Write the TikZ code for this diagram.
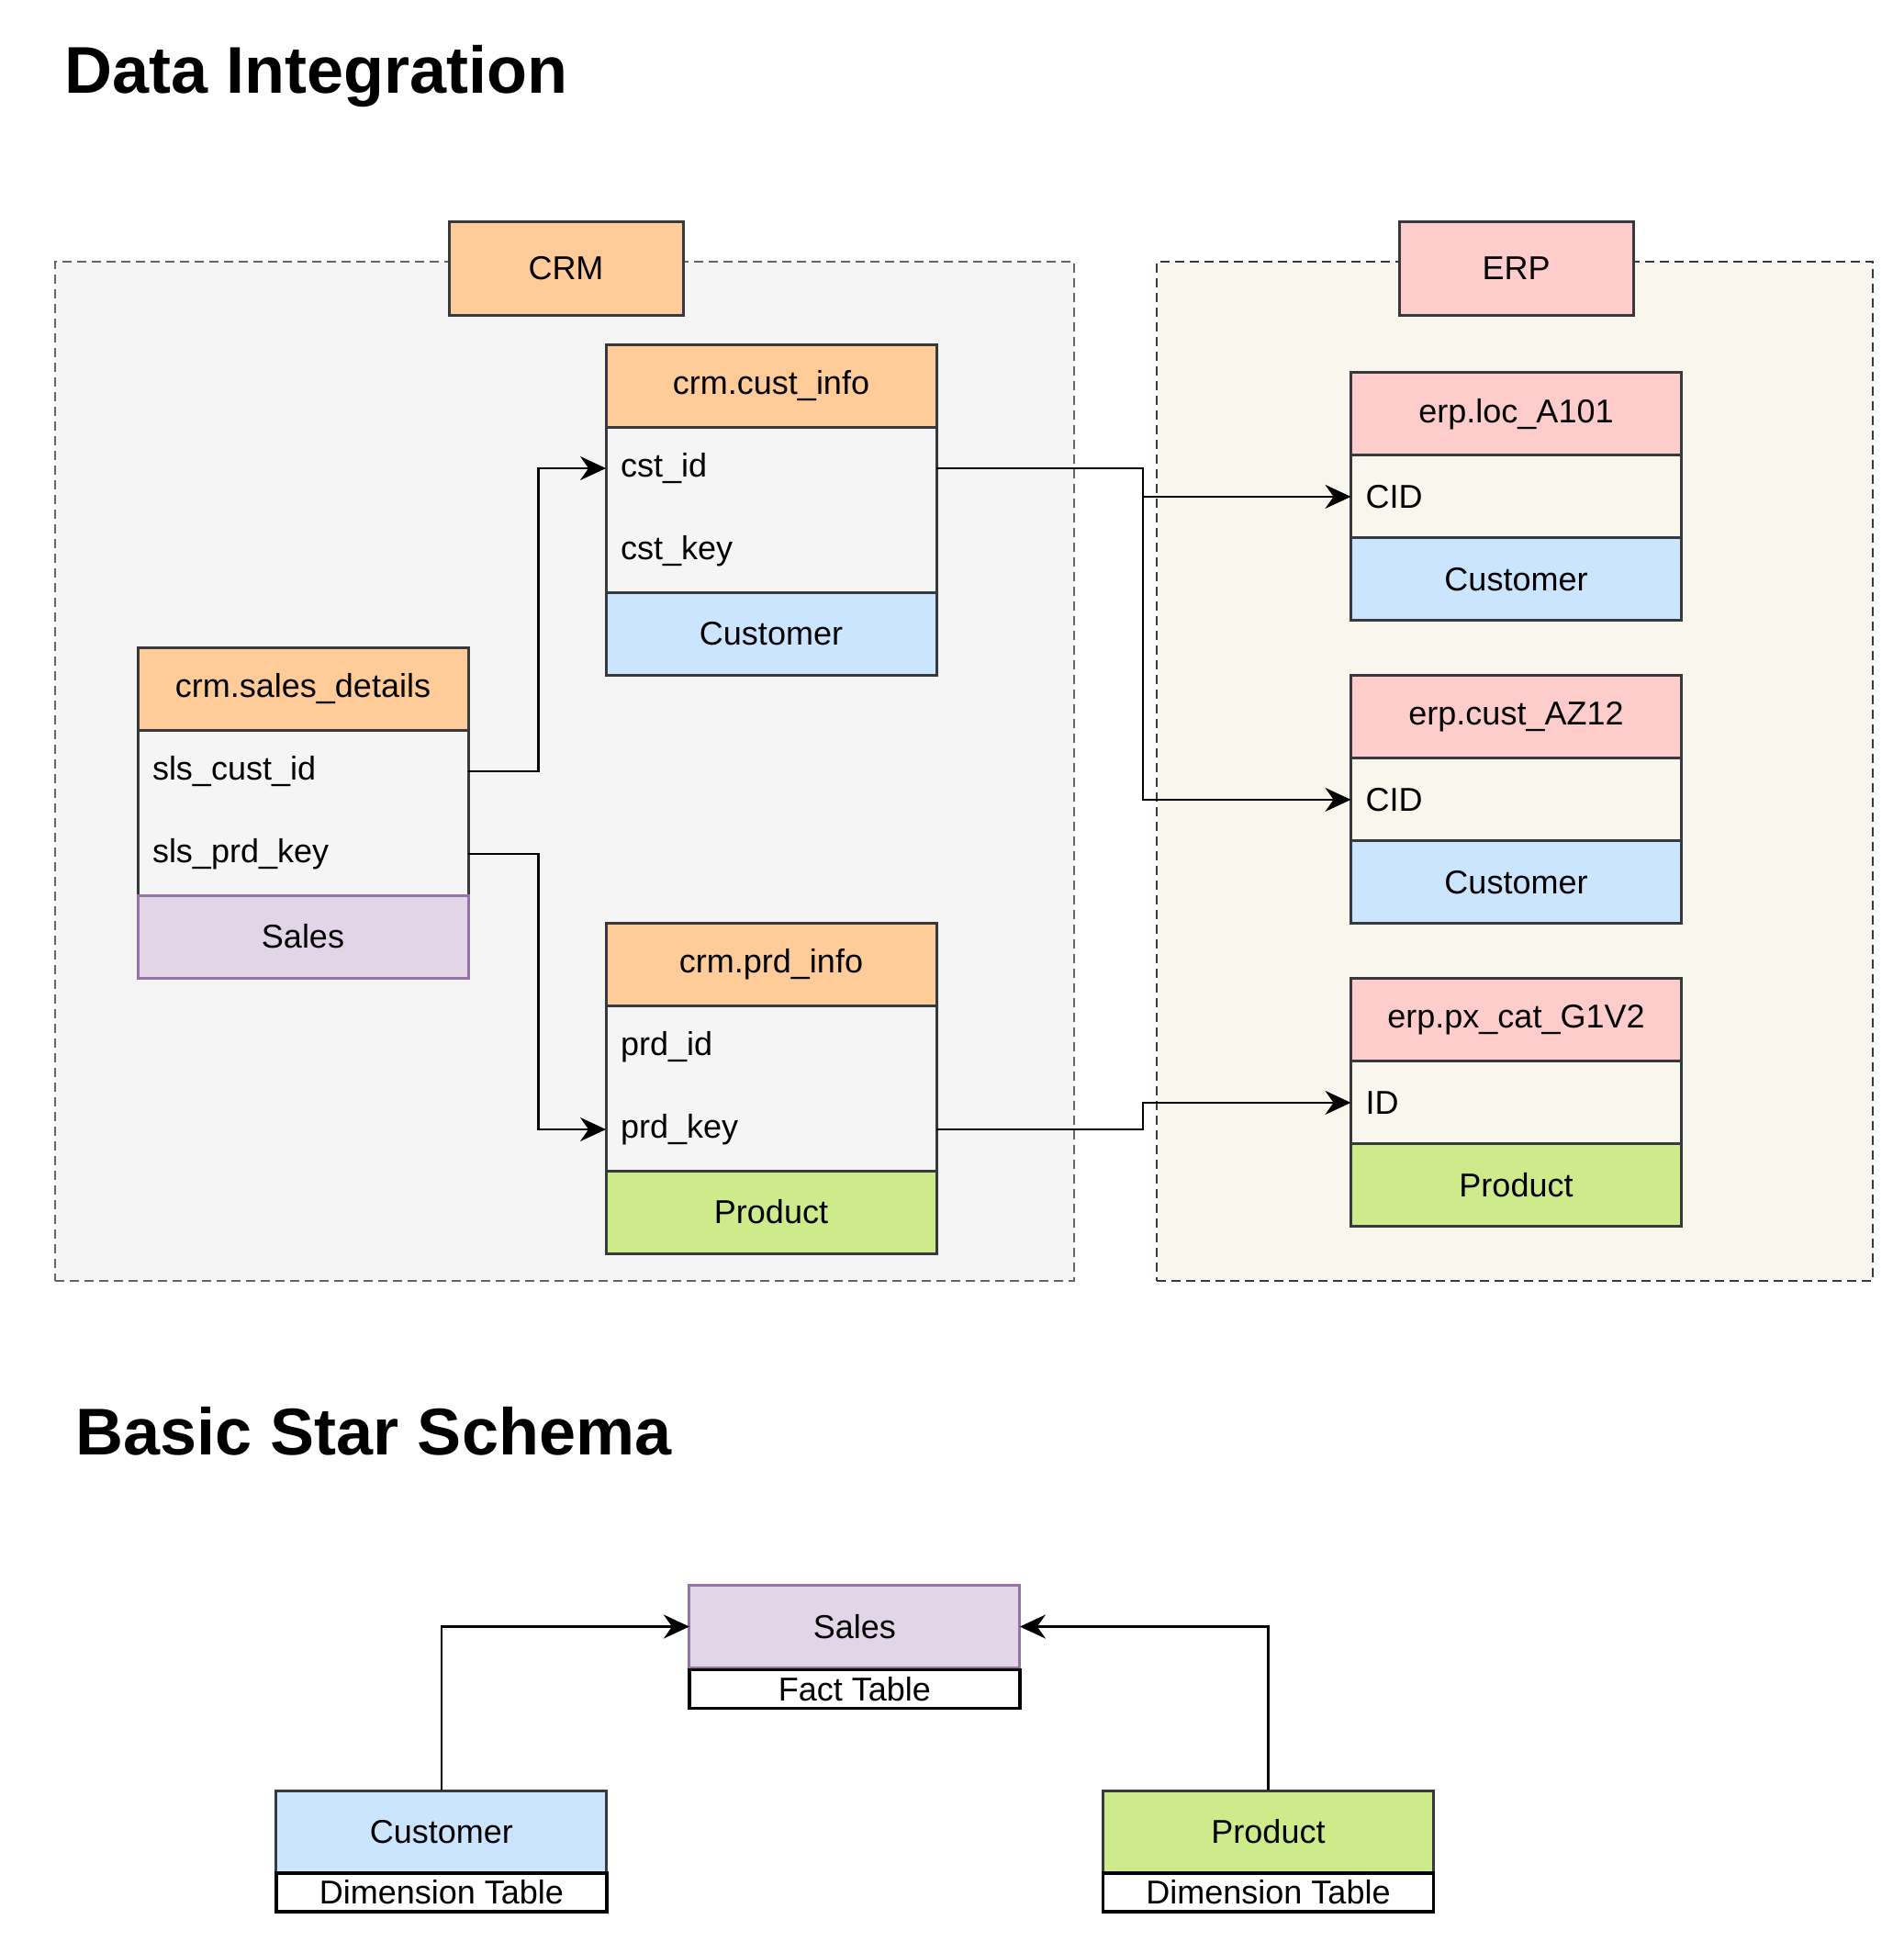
\documentclass[tikz,border=0pt]{standalone}
\usepackage{fontspec}
\setmainfont{Liberation Sans}
\usetikzlibrary{positioning,arrows.meta}

\definecolor{srcorange}{HTML}{FFCC99}
\definecolor{srcred}{HTML}{FFCCCC}
\definecolor{custblue}{HTML}{CCE5FF}
\definecolor{prodgreen}{HTML}{CDEB8B}
\definecolor{salespurple}{HTML}{E1D5E7}
\definecolor{salesedge}{HTML}{9673A6}
\definecolor{boxedge}{HTML}{36393D}
\definecolor{crmback}{HTML}{F5F5F5}
\definecolor{erpback}{HTML}{F9F7ED}
\definecolor{crmdash}{HTML}{666666}

\begin{document}
\begin{tikzpicture}[x=1.5pt,y=-1.5pt,>={Stealth[length=14pt,width=13pt]},
    cell/.style={draw=boxedge,line width=1.5pt,minimum width=180pt,minimum height=45pt,inner sep=0pt,outer sep=0pt,font=\fontsize{18}{22}\selectfont},
    head/.style={cell,fill=#1},
    field/.style={cell,draw=none,text width=164pt,inner xsep=8pt,align=left},
    outline/.style={draw=boxedge,line width=1.5pt},
    tag/.style={cell,fill=white,draw=black,line width=1.8pt,minimum height=21pt,font=\fontsize{18}{20}\selectfont},
    group/.style={draw=#1,dash pattern=on 5pt off 3pt,line width=1.2pt,minimum width=555pt,minimum height=555pt,anchor=north west,inner sep=0pt,outer sep=0pt},
    title/.style={anchor=base west,inner sep=0pt,font=\fontsize{36}{43}\selectfont\bfseries},
    elbow/.style={to path={-- ++(#1,0) |- (\tikztotarget)}},
    rise/.style={to path={|- (\tikztotarget)}}]

\useasboundingbox (0,0) rectangle (691,705);

\node[title] (t1) at (23.5,33.7) {Data Integration};
\node[title] (t2) at (27.5,528.3) {Basic Star Schema};

% source systems
\node[group=crmdash,fill=crmback] (crm) at (20,95) {};
\node[group=boxedge,fill=erpback,minimum width=390pt] (erp) at (420,95) {};
\node[head=srcorange,minimum width=127.5pt,minimum height=51pt,anchor=north west] (crml) at (163,80.5) {CRM};
\node[head=srcred,minimum width=127.5pt,minimum height=51pt,anchor=north west] (erpl) at (508,80.5) {ERP};

% crm tables
\node[head=srcorange,anchor=north west] (ci) at (220,125) {crm.cust\_info};
\node[field,below=0pt of ci] (ci1) {cst\_id};
\node[field,below=0pt of ci1] (ci2) {cst\_key};
\node[head=custblue,below=0pt of ci2] (cif) {Customer};
\draw[outline] (ci.south west) rectangle (cif.north east);

\node[head=srcorange,anchor=north west] (sd) at (50,235) {crm.sales\_details};
\node[field,below=0pt of sd] (sd1) {sls\_cust\_id};
\node[field,below=0pt of sd1] (sd2) {sls\_prd\_key};
\draw[outline] (sd.south west) rectangle (sd2.south east);
\node[head=salespurple,draw=salesedge,below=0pt of sd2] (sdf) {Sales};

\node[head=srcorange,anchor=north west] (pi) at (220,335) {crm.prd\_info};
\node[field,below=0pt of pi] (pi1) {prd\_id};
\node[field,below=0pt of pi1] (pi2) {prd\_key};
\node[head=prodgreen,below=0pt of pi2] (pif) {Product};
\draw[outline] (pi.south west) rectangle (pif.north east);

% erp tables
\node[head=srcred,anchor=north west] (la) at (490.5,135.3) {erp.loc\_A101};
\node[field,below=0pt of la] (la1) {CID};
\node[head=custblue,below=0pt of la1] (laf) {Customer};
\draw[outline] (la.south west) rectangle (laf.north east);

\node[head=srcred,anchor=north west] (ca) at (490.5,245.3) {erp.cust\_AZ12};
\node[field,below=0pt of ca] (ca1) {CID};
\node[head=custblue,below=0pt of ca1] (caf) {Customer};
\draw[outline] (ca.south west) rectangle (caf.north east);

\node[head=srcred,anchor=north west] (px) at (490.5,355.3) {erp.px\_cat\_G1V2};
\node[field,below=0pt of px] (px1) {ID};
\node[head=prodgreen,below=0pt of px1] (pxf) {Product};
\draw[outline] (px.south west) rectangle (pxf.north east);

% star schema
\node[head=salespurple,draw=salesedge,anchor=north west] (sales) at (250.3,575.5) {Sales};
\node[tag,below=1pt of sales] (fact) {Fact Table};
\node[head=custblue,anchor=north west] (cust) at (100.3,650) {Customer};
\node[tag,below=0pt of cust] (custd) {Dimension Table};
\node[head=prodgreen,anchor=north west] (prod) at (400.5,650) {Product};
\node[tag,below=0pt of prod] (prodd) {Dimension Table};

\path[->,line width=1.3pt]
    (sd1.east) edge[elbow=25.5] (ci1.west)
    (sd2.east) edge[elbow=25.5] (pi2.west)
    (ci1.east) edge[elbow=75] (la1.west)
    (ci1.east) edge[elbow=75] (ca1.west)
    (pi2.east) edge[elbow=75] (px1.west)
    (cust.north) edge[rise] (sales.west)
    (prod.north) edge[rise] (sales.east)
    ;
\end{tikzpicture}
\end{document}
